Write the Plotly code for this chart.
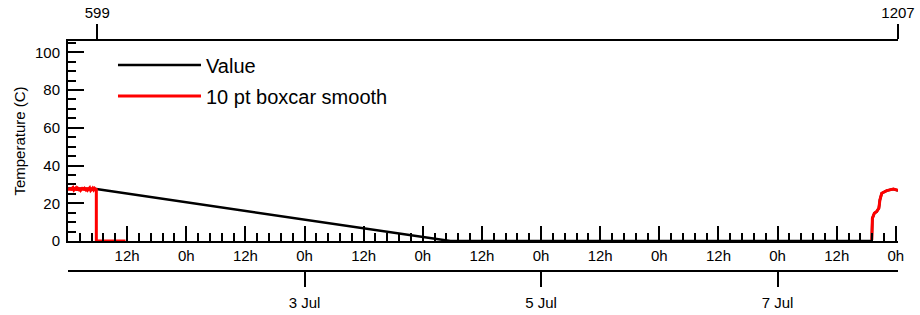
import plotly.graph_objects as go

# ---------------- data ----------------
# black "Value" series (time, value)
value_time = ["2024-07-01 00:00", "2024-07-01 02:00", "2024-07-01 05:45",
              "2024-07-04 05:36", "2024-07-07 19:06", "2024-07-07 19:14",
              "2024-07-07 19:38", "2024-07-07 20:07", "2024-07-07 20:33",
              "2024-07-07 20:46", "2024-07-07 21:08", "2024-07-07 22:09",
              "2024-07-07 23:29", "2024-07-08 00:26"]
value_temp = [27.8, 27.6, 27.5, 0.0, 0.0, 12.0, 14.7, 15.6, 17.4, 21.8, 25.3, 26.7, 27.5, 26.8]

# red "10 pt boxcar smooth" series (time, value); None = gap
smooth_time = ["2024-07-01 00:00", "2024-07-01 00:12", "2024-07-01 00:24", "2024-07-01 00:36",
               "2024-07-01 00:48", "2024-07-01 01:00", "2024-07-01 01:12", "2024-07-01 01:24",
               "2024-07-01 01:36", "2024-07-01 01:48", "2024-07-01 02:00", "2024-07-01 02:12",
               "2024-07-01 02:24", "2024-07-01 02:36", "2024-07-01 02:48", "2024-07-01 03:00",
               "2024-07-01 03:12", "2024-07-01 03:24", "2024-07-01 03:36", "2024-07-01 03:48",
               "2024-07-01 04:00", "2024-07-01 04:12", "2024-07-01 04:24", "2024-07-01 04:36",
               "2024-07-01 04:48", "2024-07-01 05:00", "2024-07-01 05:12", "2024-07-01 05:24",
               "2024-07-01 05:36", "2024-07-01 05:45", "2024-07-01 05:45", "2024-07-01 11:40",
               "2024-07-01 11:41",
               "2024-07-07 19:07", "2024-07-07 19:14", "2024-07-07 19:38", "2024-07-07 20:07",
               "2024-07-07 20:33", "2024-07-07 20:46", "2024-07-07 21:08", "2024-07-07 22:09",
               "2024-07-07 23:29", "2024-07-08 00:26"]
smooth_temp = [27.9, 27.1, 28.2, 26.9, 27.8, 28.3, 27.0, 27.6, 28.1, 26.8,
               27.9, 27.3, 28.2, 27.0, 27.7, 28.3, 26.9, 27.8, 27.2, 28.1,
               27.0, 27.9, 28.2, 26.8, 27.6, 28.0, 27.1, 27.9, 27.4, 27.8,
               0.0, 0.0, None,
               0.5, 12.0, 14.7, 15.6, 17.4, 21.8, 25.3, 26.7, 27.5, 26.8]

# axis ranges and tick labels
time_range = ["2024-07-01 00:00", "2024-07-08 00:26"]
y_range = [0, 106]
point_range = [576.8, 1207]
point_ticks = [599, 1207]
hour_ticks = ["2024-07-01 12:00", "2024-07-02 00:00", "2024-07-02 12:00", "2024-07-03 00:00",
              "2024-07-03 12:00", "2024-07-04 00:00", "2024-07-04 12:00", "2024-07-05 00:00",
              "2024-07-05 12:00", "2024-07-06 00:00", "2024-07-06 12:00", "2024-07-07 00:00",
              "2024-07-07 12:00", "2024-07-08 00:00"]
hour_labels = ["12h", "0h"] * 7
date_ticks = ["2024-07-03 00:00", "2024-07-05 00:00", "2024-07-07 00:00"]
date_labels = ["3 Jul", "5 Jul", "7 Jul"]

FONT = "Liberation Sans, Arial, sans-serif"
TICKSZ = 15

fig = go.Figure()
fig.add_trace(go.Scatter(x=value_time, y=value_temp, mode="lines", name="Value",
                         line=dict(color="black", width=2.5), legendgroup="a"))
fig.add_trace(go.Scatter(x=smooth_time, y=smooth_temp, mode="lines", name="10 pt boxcar smooth",
                         line=dict(color="#ff0000", width=3), connectgaps=False, legendgroup="b"))
# carriers for the extra axes
fig.add_trace(go.Scatter(x=[time_range[0]], y=[None], xaxis="x2", mode="lines",
                         showlegend=False, hoverinfo="skip"))
fig.add_trace(go.Scatter(x=[point_ticks[0]], y=[None], xaxis="x3", mode="lines",
                         showlegend=False, hoverinfo="skip"))

H_PAPER = 315 - 41 - 10
ydom0 = (305 - 241) / H_PAPER
pos2 = (305 - 271) / H_PAPER

axis_common = dict(showgrid=False, zeroline=False, showline=True, linecolor="black",
                   linewidth=2, tickcolor="black", tickwidth=2, automargin=False,
                   tickfont=dict(family=FONT, size=TICKSZ, color="black"))

fig.update_layout(
    width=920, height=315,
    margin=dict(l=68, r=22, t=41, b=10, autoexpand=False),
    paper_bgcolor="white", plot_bgcolor="white",
    font=dict(family=FONT, color="black"),
    showlegend=True,
    legend=dict(x=0.0542, y=0.983, xanchor="left", yanchor="top",
                font=dict(family=FONT, size=20, color="black"),
                bgcolor="rgba(0,0,0,0)", itemwidth=83, tracegroupgap=2),
    xaxis=dict(type="date", range=time_range, tickmode="array", tickvals=hour_ticks,
               ticktext=hour_labels, ticks="inside", ticklen=15,
               minor=dict(tickmode="linear", tick0="2024-07-01", dtick=8640000,
                          ticks="inside", ticklen=8, tickwidth=2, tickcolor="black"),
               **axis_common),
    xaxis2=dict(type="date", range=time_range, overlaying="x", anchor="free",
                position=pos2, side="bottom", tickmode="array", tickvals=date_ticks,
                ticktext=date_labels, ticks="outside", ticklen=15, ticklabelstandoff=3,
                **axis_common),
    xaxis3=dict(range=point_range, overlaying="x", anchor="y", side="top",
                tickmode="array", tickvals=point_ticks, ticks="outside", ticklen=15,
                **axis_common),
    yaxis=dict(domain=[ydom0, 1], range=y_range, tickmode="linear", tick0=0, dtick=20,
               ticks="inside", ticklen=16, ticklabelstandoff=3,
               minor=dict(tickmode="linear", tick0=0, dtick=5, ticks="inside", ticklen=8,
                          tickwidth=2, tickcolor="black"),
               title=dict(text="Temperature (C)", font=dict(family=FONT, size=15, color="black"),
                          standoff=6),
               **axis_common),
)

fig.write_html("out.html", config={"displayModeBar": False},
               post_script="document.body.style.margin='0px';")
